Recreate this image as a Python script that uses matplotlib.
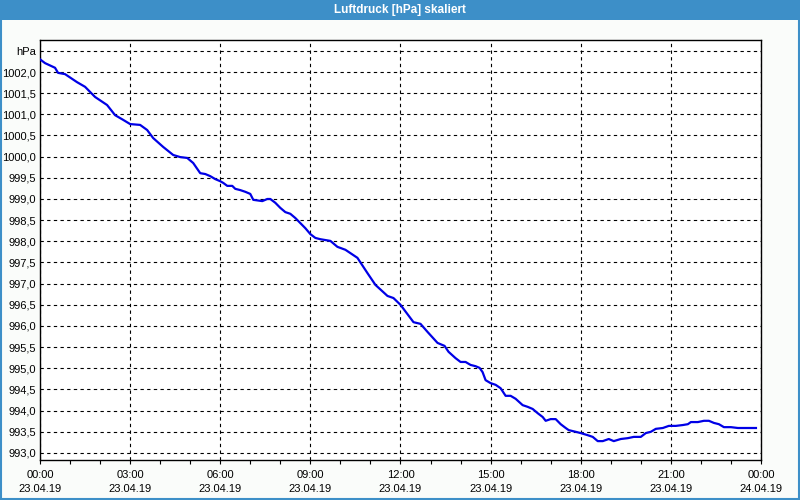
import numpy as np
import matplotlib
matplotlib.use('Agg')
import matplotlib.pyplot as plt
import matplotlib.dates as mdates
from matplotlib.patches import Rectangle

# hours after 23.04.19 00:00 and air pressure in hPa
hours = [0.0, 0.17, 0.5, 0.6, 0.83, 1.23, 1.5, 1.83, 2.23, 2.5, 2.77, 3.0, 3.33,
         3.57, 3.77, 4.1, 4.43, 4.67, 4.9, 5.1, 5.33, 5.5, 5.67, 5.83, 6.0, 6.1,
         6.23, 6.4, 6.5, 6.67, 6.83, 7.0, 7.1, 7.4, 7.57, 7.67, 7.83, 8.0, 8.17,
         8.33, 8.5, 8.67, 8.83, 9.0, 9.17, 9.33, 9.67, 9.9, 10.17, 10.57, 10.9,
         11.17, 11.57, 11.77, 12.0, 12.43, 12.67, 12.9, 13.23, 13.47, 13.6, 13.83,
         14.0, 14.17, 14.33, 14.5, 14.63, 14.73, 14.83, 15.0, 15.17, 15.33, 15.5,
         15.67, 15.83, 16.07, 16.23, 16.4, 16.57, 16.73, 16.83, 17.0, 17.17, 17.33,
         17.5, 17.6, 17.83, 18.0, 18.23, 18.4, 18.57, 18.73, 18.93, 19.1, 19.33,
         19.57, 19.77, 20.0, 20.17, 20.33, 20.5, 20.73, 20.93, 21.17, 21.4, 21.57,
         21.67, 21.9, 22.1, 22.27, 22.43, 22.6, 22.77, 23.0, 23.23, 23.83]
pressure = [1002.30, 1002.21, 1002.10, 1001.98, 1001.95, 1001.76, 1001.65, 1001.41,
            1001.22, 1000.98, 1000.87, 1000.77, 1000.75, 1000.63, 1000.44, 1000.23,
            1000.04, 999.99, 999.97, 999.85, 999.61, 999.59, 999.54, 999.47, 999.42,
            999.38, 999.31, 999.31, 999.24, 999.21, 999.17, 999.12, 998.98, 998.95,
            999.00, 999.00, 998.91, 998.79, 998.69, 998.65, 998.55, 998.43, 998.31,
            998.17, 998.08, 998.05, 998.01, 997.87, 997.80, 997.61, 997.25, 996.97,
            996.71, 996.66, 996.50, 996.09, 996.05, 995.86, 995.60, 995.53, 995.39,
            995.24, 995.15, 995.15, 995.08, 995.05, 995.01, 994.91, 994.72, 994.65,
            994.61, 994.53, 994.35, 994.35, 994.28, 994.13, 994.09, 994.04, 993.94,
            993.85, 993.76, 993.80, 993.80, 993.68, 993.59, 993.54, 993.50, 993.47,
            993.42, 993.38, 993.28, 993.28, 993.33, 993.28, 993.33, 993.35, 993.38,
            993.38, 993.47, 993.50, 993.57, 993.59, 993.64, 993.64, 993.66, 993.68,
            993.73, 993.73, 993.76, 993.76, 993.71, 993.68, 993.61, 993.61, 993.59,
            993.59]

title = 'Luftdruck [hPa] skaliert'
y_ticks = [993.0, 993.5, 994.0, 994.5, 995.0, 995.5, 996.0, 996.5, 997.0, 997.5,
           998.0, 998.5, 999.0, 999.5, 1000.0, 1000.5, 1001.0, 1001.5, 1002.0, 1002.5]

start = np.datetime64('2019-04-23T00:00')
times = start + (np.array(hours) * 60).round().astype('timedelta64[m]')

plt.rcParams['font.family'] = 'Liberation Sans'
fig = plt.figure(figsize=(8, 5), dpi=100, facecolor='#fafcfa')

# window title bar and frame
fig.patches.append(Rectangle((0, 0.96), 1, 0.04, transform=fig.transFigure,
                             facecolor='#3d8fc8', edgecolor='none', zorder=0))
fig.patches.append(Rectangle((0.0012, 0.002), 0.9976, 0.996, transform=fig.transFigure,
                             facecolor='none', edgecolor='#3d8fc8', lw=1.5, zorder=1))
fig.text(0.5, 0.979, title, color='white', fontsize=8.5, fontweight='bold',
         ha='center', va='center')

ax = fig.add_axes([0.05, 0.08, 0.9012, 0.84])
ax.set_facecolor('white')
ax.plot(times, pressure, color='#0000e6', lw=1.6, zorder=3)

ax.set_xlim(start, start + np.timedelta64(24, 'h'))
ax.set_ylim(992.834, 1002.756)

ax.xaxis.set_major_locator(mdates.HourLocator(byhour=range(0, 24, 3)))
ax.xaxis.set_minor_locator(mdates.HourLocator())
ax.xaxis.set_major_formatter(mdates.DateFormatter('%H:%M\n%d.%m.%y'))
ax.tick_params(axis='x', which='both', direction='out', length=3, width=0.8,
               labelsize=8, pad=4.5)

ax.set_yticks(y_ticks)
ax.set_yticklabels([('%.1f' % v).replace('.', ',') for v in y_ticks[:-1]] + ['hPa'])
ax.tick_params(axis='y', length=0, labelsize=8, pad=3)
for lbl in ax.get_xticklabels():
    lbl.set_linespacing(1.45)

ax.grid(True, which='major', color='black', linestyle=(0, (3, 3)), lw=0.8)
for s in ax.spines.values():
    s.set_linewidth(1.0)
    s.set_color('black')

fig.savefig('out.png', dpi=100, facecolor=fig.get_facecolor())
